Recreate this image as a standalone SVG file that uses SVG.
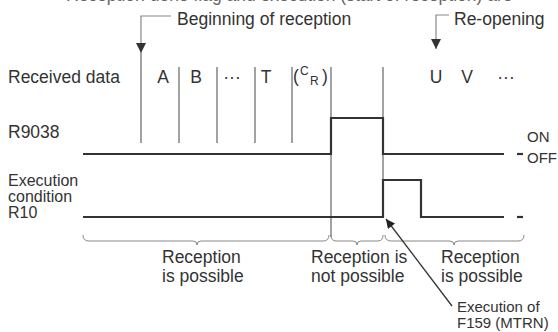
<svg xmlns="http://www.w3.org/2000/svg" width="558" height="332" viewBox="0 0 558 332">
<defs>
<marker id="ah" viewBox="0 0 10 10" refX="10" refY="5" markerWidth="10" markerHeight="10" markerUnits="userSpaceOnUse" orient="auto"><path d="M0,0 L10,5 L0,10 Z" fill="#333"/></marker>
<marker id="ah2" viewBox="0 0 10 10" refX="10" refY="5" markerWidth="13" markerHeight="9" markerUnits="userSpaceOnUse" orient="auto"><path d="M0,0 L10,5 L0,10 Z" fill="#222"/></marker>
</defs>
<style>
text{font-family:"Liberation Sans",Arial,sans-serif;fill:#333;font-size:17.5px}
.sm{font-size:15px}
.lb{font-size:16px}
.sig{fill:none;stroke:#333;stroke-width:2.2}
.dl{stroke:#666;stroke-width:1.2;fill:none}
.br{fill:none;stroke:#888;stroke-width:1}
.ld{fill:none;stroke:#888;stroke-width:1.2}
</style>
<rect width="558" height="332" fill="#fff"/>
<text x="66" y="1" style="fill:#666">Reception done flag and execution (start of reception) are</text>

<g id="labels">
<text x="8" y="83">Received data</text>
<text x="8" y="138">R9038</text>
<text class="lb" x="8" y="186">Execution</text>
<text class="lb" x="8" y="202">condition</text>
<text class="lb" x="8" y="218">R10</text>
<text class="sm" x="527" y="142">ON</text>
<text class="sm" x="527" y="163">OFF</text>
</g>

<g id="data">
<text x="163" y="83" text-anchor="middle">A</text>
<text x="196" y="83" text-anchor="middle">B</text>
<text x="232" y="83" text-anchor="middle">···</text>
<text x="266" y="83" text-anchor="middle">T</text>
<text x="293" y="82">(</text>
<text x="300" y="75" style="font-size:12px">C</text>
<text x="310" y="85" style="font-size:12px">R</text>
<text x="322" y="82">)</text>
<text x="436" y="83" text-anchor="middle">U</text>
<text x="467" y="83" text-anchor="middle">V</text>
<text x="506" y="83" text-anchor="middle">···</text>
<path class="dl" d="M141,53 V143 M179,67 V143 M217,67 V143 M255,67 V143 M292,67 V143 M331,67 V237 M383,67 V217"/>
</g>

<g id="begin">
<path class="ld" d="M171,16 H141 V53" marker-end="url(#ah)"/>
<text x="177" y="25">Beginning of reception</text>
</g>
<g id="reopen">
<path class="ld" d="M449,15 H436 V49" marker-end="url(#ah)"/>
<text x="454" y="25">Re-opening</text>
</g>

<g id="signals">
<path class="sig" d="M83,154 H331 V118 H383 V154 H504"/>
<path class="sig" d="M517,154 H523"/>
<path class="sig" d="M83,217 H383 V180 H421 V217 H504"/>
<path class="sig" d="M517,217 H523"/>
</g>

<g id="braces">
<path class="br" d="M83,235 q0,6 6,6 L193,241 q4,0 4,4 q0,-4 4,-4 L323,241 q6,0 6,-6"/>
<path class="br" d="M331,235 q0,6 5,6 L353,241 q4,0 4,4 q0,-4 4,-4 L378,241 q5,0 5,-6"/>
<path class="br" d="M385,235 q0,6 6,6 L450,241 q4,0 4,4 q0,-4 4,-4 L518,241 q6,0 6,-6"/>
</g>

<g id="regions">
<text x="162" y="263">Reception</text>
<text x="162" y="282">is possible</text>
<text x="311" y="263">Reception is</text>
<text x="311" y="282">not possible</text>
<text x="441" y="263">Reception</text>
<text x="441" y="282">is possible</text>
</g>

<g id="connectors">
<path d="M452,306 L386,219" stroke="#333" stroke-width="1.3" fill="none" marker-end="url(#ah2)"/>
</g>
<g id="exec">
<text class="sm" x="457" y="312">Execution of</text>
<text class="sm" x="457" y="328">F159 (MTRN)</text>
</g>
</svg>
